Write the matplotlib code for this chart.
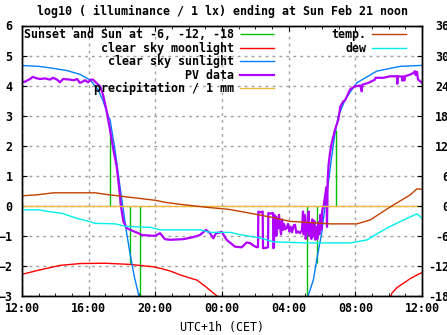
import numpy as np
import matplotlib
matplotlib.use("Agg")
import matplotlib.pyplot as plt

plt.rcParams['font.family'] = 'DejaVu Sans Mono'
plt.rcParams['font.weight'] = 'bold'
plt.rcParams['font.size'] = 8.4

nan = np.nan

# time axis: hours after Sat 12:00 CET
xtick_pos = [0, 4, 8, 12, 16, 20, 24]
xtick_labels = ["12:00", "16:00", "20:00", "00:00", "04:00", "08:00", "12:00"]

# clear sky sunlight, log10(lx)
sun_t = [0, 1.0, 1.7, 2.7, 3.5, 4.1, 4.56, 4.86, 5.18, 5.28, 5.58, 5.88, 6.08, 6.28, 6.48, 6.74, 6.98, 7.1,
         nan,
         17.1, 17.18, 17.48, 17.68, 17.98, 18.18, 18.38, 18.58, 18.78, 18.98, 19.4, 20.08, 21.28, 22.68, 23.88, 24]
sun_v = [4.67, 4.64, 4.59, 4.5, 4.37, 4.18, 3.87, 3.5, 2.98, 2.87, 1.87, 0.64, -0.13, -0.91, -1.58, -2.36, -2.91, -3.3,
         nan,
         -3.3, -2.97, -2.47, -1.8, -0.91, -0.02, 0.76, 1.64, 2.42, 2.98, 3.55, 4.09, 4.48, 4.64, 4.67, 4.67]

# clear sky moonlight
moon_t = [0, 1.0, 2.3, 3.5, 5.0, 6.5, 7.9, 8.3, 8.9, 9.5, 10.3, 10.5, 11.0, 11.7, 12.0,
          nan,
          22.0, 22.2, 22.5, 22.9, 23.3, 23.7, 24]
moon_v = [-2.28, -2.14, -1.98, -1.92, -1.91, -1.95, -2.03, -2.08, -2.17, -2.3, -2.44, -2.47, -2.68, -3.0, -3.2,
          nan,
          -3.2, -2.9, -2.72, -2.57, -2.42, -2.3, -2.22]

# sunset / sun at -6, -12, -18 deg (evening and morning)
event_t = [5.30, 5.90, 6.50, 7.10, 17.12, 17.72, 18.30, 18.86]
event_v = [2.67, 0.23, -1.9, -3.3, -3.3, -1.9, 0.3, 2.53]

# PV data
pv_t = [0, 0.18, 0.48, 0.66, 0.84, 1.08, 1.38, 1.68, 1.86, 2.1, 2.28, 2.46, 2.7, 2.88, 3.12, 3.3, 3.48, 3.66,
        3.78, 3.96, 4.14, 4.26, 4.5, 4.68, 4.86, 5.08, 5.28, 5.48, 5.68, 5.82, 5.94, 6.08, 6.28, 6.58, 6.98,
        7.18, 7.98, 8.28, 8.58, 8.88, 9.68, 10.28, 10.68, 11.04, 11.28, 11.48, 11.64, 11.84, 11.98, 12.28,
        12.78, 13.18, 13.48, 13.68, 14.0, 14.16, 14.18, 14.3, 14.44, 14.46, 14.6, 14.76, 14.78, 14.9, 15.06,
        15.08, 15.12, 15.14, 15.18, 15.22, 15.26, 15.3, 15.36, 15.42, 15.48, 15.54, 15.6, 15.66, 15.72, 15.8,
        15.88, 15.96, 16.04, 16.12, 16.2, 16.3, 16.38, 16.46, 16.56, 16.68, 16.8, 16.86, 16.9, 16.96, 17.02,
        17.08, 17.14, 17.2, 17.24, 17.3, 17.36, 17.42, 17.48, 17.54, 17.6, 17.66, 17.72, 17.78, 17.84, 17.9,
        17.96, 18.02, 18.1, 18.18, 18.26, 18.3, 18.34, 18.4, 18.48, 18.58, 18.78, 18.98, 19.1, 19.28, 19.38,
        19.68, 19.98, 20.3, 20.38, 20.42, 20.78, 21.18, 21.2, 21.48, 21.68, 22.08, 22.5, 22.52, 22.54, 22.8,
        22.82, 22.84, 22.92, 22.94, 22.96, 23.08, 23.3, 23.48, 23.58, 23.62, 23.7, 23.76, 23.88, 24.0]
pv_v = [4.12, 4.13, 4.22, 4.29, 4.25, 4.22, 4.24, 4.2, 4.26, 4.2, 4.11, 4.22, 4.21, 4.2, 4.18, 4.22, 4.09, 4.14,
        4.18, 4.11, 4.2, 4.2, 4.07, 3.98, 3.7, 3.15, 2.53, 1.87, 1.31, 0.64, -0.02, -0.52, -0.74, -0.82, -0.91,
        -0.97, -1.0, -0.91, -1.11, -1.13, -1.11, -1.04, -0.97, -0.8, -0.91, -1.08, -0.91, -0.89, -0.86, -1.13,
        -1.36, -1.38, -1.22, -1.24, -1.36, -1.38, -0.19, -0.22, -0.19, -1.41, -1.4, -1.38, -0.24, -0.26, -0.24,
        -1.41, -1.38, -0.3, -0.9, -0.35, -1.0, -0.4, -0.75, -0.3, -0.69, -0.95, -0.45, -0.8, -0.6, -0.78,
        -0.74, -0.6, -0.85, -0.7, -0.88, -0.65, -0.63, -0.9, -0.85, -0.91, -0.8, -0.19, -0.95, -0.3, -1.1,
        -0.91, -0.4, -0.19, -1.0, -0.6, -1.1, -0.45, -1.02, -0.5, -1.13, -0.7, -1.1, -0.55, -0.95, -0.3,
        -0.8, -0.13, 0.0, 0.31, 0.62, -0.7, 0.9, 1.4, 1.76, 2.09, 2.53, 2.87, 3.3, 3.48, 3.5,
        3.87, 3.98, 4.0, 3.81, 4.03, 4.09, 4.2, 4.26, 4.26, 4.26, 4.31, 4.31, 4.06, 4.31, 4.3,
        4.17, 4.3, 4.3, 4.17, 4.3, 4.33, 4.37, 4.42, 4.48, 4.35, 4.46, 4.2, 4.15, 4.09]

# precipitation / 1 mm
precip_t = [0, 24]
precip_v = [0, 0]

# temperature and dew point, deg C (right axis)
temp_t = [0, 0.9, 1.9, 4.4, 5.0, 6.0, 7.0, 8.0, 8.6, 9.5, 11.1, 12.4, 13.4, 15.0, 16.1, 18.5, 20.1, 20.9,
          22.1, 23.3, 23.7, 24]
temp_v = [2.0, 2.2, 2.6, 2.6, 2.3, 1.9, 1.5, 1.1, 0.7, 0.3, -0.3, -0.7, -1.3, -2.3, -3.1, -3.6, -3.6, -2.8,
          -0.2, 2.2, 3.4, 3.3]
dew_t = [0, 1.0, 1.7, 2.4, 3.3, 4.0, 4.4, 5.6, 6.2, 7.7, 8.3, 10.7, 11.3, 12.5, 13.0, 13.7, 14.3, 15.1,
         17.1, 19.7, 20.7, 21.5, 22.1, 22.9, 23.7, 24]
dew_v = [-0.8, -0.8, -1.2, -1.5, -2.5, -3.1, -3.5, -3.6, -4.1, -4.3, -4.8, -4.8, -5.3, -5.3, -5.7, -6.1,
         -6.4, -7.2, -7.4, -7.4, -6.8, -5.2, -4.1, -2.8, -1.6, -2.5]

fig = plt.figure(figsize=(4.47, 3.35), dpi=100)
ax = fig.add_axes([22 / 447, 1 - 296 / 335, 400 / 447, 270.5 / 335])
ax2 = ax.twinx()

h_ev = ax.vlines(event_t, 0, event_v, color='#00c000', lw=1.0)
h_moon, = ax.plot(moon_t, moon_v, color='#ff0000', lw=1.0)
h_sun, = ax.plot(sun_t, sun_v, color='#0080ff', lw=1.0)
h_pv, = ax.plot(pv_t, pv_v, color='#b000ff', lw=1.6)
h_pr, = ax.plot(precip_t, precip_v, color='#f0b838', lw=1.0)

h_temp, = ax2.plot(temp_t, temp_v, color='#c04000', lw=1.0)
h_dew, = ax2.plot(dew_t, dew_v, color='#00eeee', lw=1.0)

ax.set_xlim(0, 24)
ax.set_ylim(-3, 6)
ax2.set_ylim(-18, 36)
ax.set_xticks(xtick_pos)
ax.set_xticklabels(xtick_labels)
ax.set_xticks(range(0, 25), minor=True)
ax.set_yticks(range(-3, 7))
ax2.set_yticks(range(-18, 37, 6))
ax2.set_yticklabels([str(v) for v in range(-18, 37, 6)], ha='right')

ax.grid(True, color='#a0a0a0', linestyle=(0, (2, 3)), linewidth=1.0)
ax.tick_params(axis='x', which='major', direction='in', top=True, length=3.5, pad=4.3)
ax.tick_params(axis='x', which='minor', direction='in', top=True, length=2)
ax.tick_params(axis='y', direction='in', length=3.5, pad=6.8)
ax2.tick_params(axis='y', direction='in', length=3.5, pad=19.6)
for a in (ax, ax2):
    for s in a.spines.values():
        s.set_linewidth(1.0)

ax.set_xlabel("UTC+1h (CET)", labelpad=4)
fig.text(0.497, 1 - 11 / 335, "log10 ( illuminance / 1 lx) ending at Sun Feb 21 noon",
         ha='center', va='center')

leg_kw = dict(frameon=False, markerfirst=False, handlelength=2.9, handletextpad=0.5,
              labelspacing=0.03, borderpad=0.25, borderaxespad=0)
leg1 = ax2.legend([h_ev, h_moon, h_sun, h_pv, h_pr],
                  ["Sunset and Sun at -6, -12, -18", "clear sky moonlight", "clear sky sunlight",
                   "PV data", "precipitation / 1 mm"],
                  loc='upper right', bbox_to_anchor=(0.6375, 1.0), **leg_kw)
ax2.add_artist(leg1)
ax2.legend([h_temp, h_dew], ["temp.", "dew"], loc='upper right', bbox_to_anchor=(0.9675, 1.0), **leg_kw)

fig.savefig("out.png", dpi=100)
